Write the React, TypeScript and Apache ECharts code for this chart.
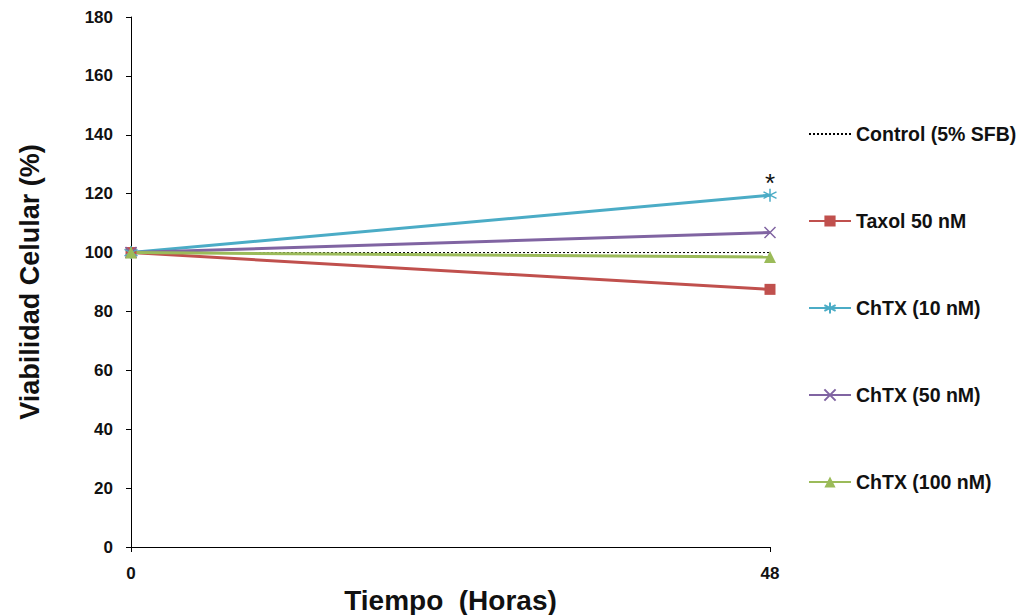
import React, { useEffect, useRef } from "react";
import * as echarts from "echarts";

const hours = [0, 48];
const seriesNames = ["Control (5% SFB)", "Taxol 50 nM", "ChTX (10 nM)", "ChTX (50 nM)", "ChTX (100 nM)"];
const control = [100, 100];
const taxol = [100, 87.5];
const chtx10 = [100, 119.5];
const chtx50 = [100, 106.8];
const chtx100 = [100, 98.5];
const yTicks = { min: 0, max: 180, interval: 20 };

const asteriskPath = "path://M5,0 L5,10 M0.7,2.5 L9.3,7.5 M0.7,7.5 L9.3,2.5";
const xPath = "path://M0,0 L10,10 M0,10 L10,0";

export default function App() {
  const ref = useRef<HTMLDivElement>(null);
  useEffect(() => {
    const chart = echarts.init(ref.current!, null, { renderer: "svg" });
    const pts = (arr: number[]) => arr.map((v, i) => [hours[i], v]);
    const font = "'Liberation Sans', Arial, sans-serif";
    chart.setOption({
      animation: false,
      textStyle: { fontFamily: font },
      grid: { left: 131, top: 17, width: 639, height: 530, outerBoundsMode: "none", containLabel: false },
      legend: {
        orient: "vertical",
        left: 803,
        top: 119,
        itemWidth: 42,
        itemHeight: 14,
        itemGap: 67,
        data: [
          { name: seriesNames[0], itemStyle: { opacity: 0 } },
          seriesNames[1],
          seriesNames[2],
          seriesNames[3],
          seriesNames[4],
        ],
        textStyle: { fontSize: 19.5, fontWeight: "bold", color: "#111", fontFamily: font },
      },
      xAxis: {
        type: "value",
        min: 0,
        max: 48,
        interval: 48,
        name: "Tiempo  (Horas)",
        nameLocation: "middle",
        nameGap: 39,
        nameTextStyle: { fontSize: 28, fontWeight: "bold", color: "#111", fontFamily: font },
        axisLine: { lineStyle: { color: "#000", width: 1 } },
        axisTick: { show: true, length: 5, lineStyle: { color: "#000" } },
        axisLabel: { fontSize: 17, fontWeight: "bold", color: "#111", margin: 18 },
        splitLine: { show: false },
      },
      yAxis: {
        type: "value",
        min: yTicks.min,
        max: yTicks.max,
        interval: yTicks.interval,
        name: "Viabilidad Celular (%)",
        nameLocation: "middle",
        nameGap: 87.5,
        nameTextStyle: { fontSize: 27, fontWeight: "bold", color: "#111", fontFamily: font },
        axisLine: { show: true, lineStyle: { color: "#000", width: 1 } },
        axisTick: { show: true, length: 5, lineStyle: { color: "#000" } },
        axisLabel: { fontSize: 17, fontWeight: "bold", color: "#111", margin: 18 },
        splitLine: { show: false },
      },
      series: [
        {
          name: seriesNames[0],
          type: "line",
          data: pts(control),
          symbol: "none",
          lineStyle: { color: "#000", width: 1, type: [2, 2] },
          itemStyle: { color: "#000" },
          z: 1,
        },
        {
          name: seriesNames[1],
          type: "line",
          data: pts(taxol),
          symbol: "rect",
          symbolSize: 11,
          lineStyle: { color: "#C0504D", width: 3 },
          itemStyle: { color: "#C0504D" },
        },
        {
          name: seriesNames[2],
          type: "line",
          data: pts(chtx10).map((d, i) =>
            i === 1
              ? {
                  value: d,
                  label: {
                    show: true,
                    formatter: "*",
                    position: "top",
                    distance: -9.5,
                    fontSize: 26,
                    color: "#111",
                  },
                }
              : { value: d }
          ),
          symbol: asteriskPath,
          symbolSize: 13,
          lineStyle: { color: "#4BACC6", width: 3 },
          itemStyle: { color: "none", borderColor: "#4BACC6", borderWidth: 1.5 },
        },
        {
          name: seriesNames[3],
          type: "line",
          data: pts(chtx50),
          symbol: xPath,
          symbolSize: 11,
          lineStyle: { color: "#8064A2", width: 3 },
          itemStyle: { color: "none", borderColor: "#8064A2", borderWidth: 1.5 },
        },
        {
          name: seriesNames[4],
          type: "line",
          data: pts(chtx100),
          symbol: "triangle",
          symbolSize: 12,
          lineStyle: { color: "#9BBB59", width: 3 },
          itemStyle: { color: "#9BBB59" },
        },
      ],
    });
    return () => chart.dispose();
  }, []);
  return (
    <div
      ref={ref}
      style={{ position: "fixed", left: 0, top: 0, width: 1018, height: 615, background: "#fff" }}
    />
  );
}
